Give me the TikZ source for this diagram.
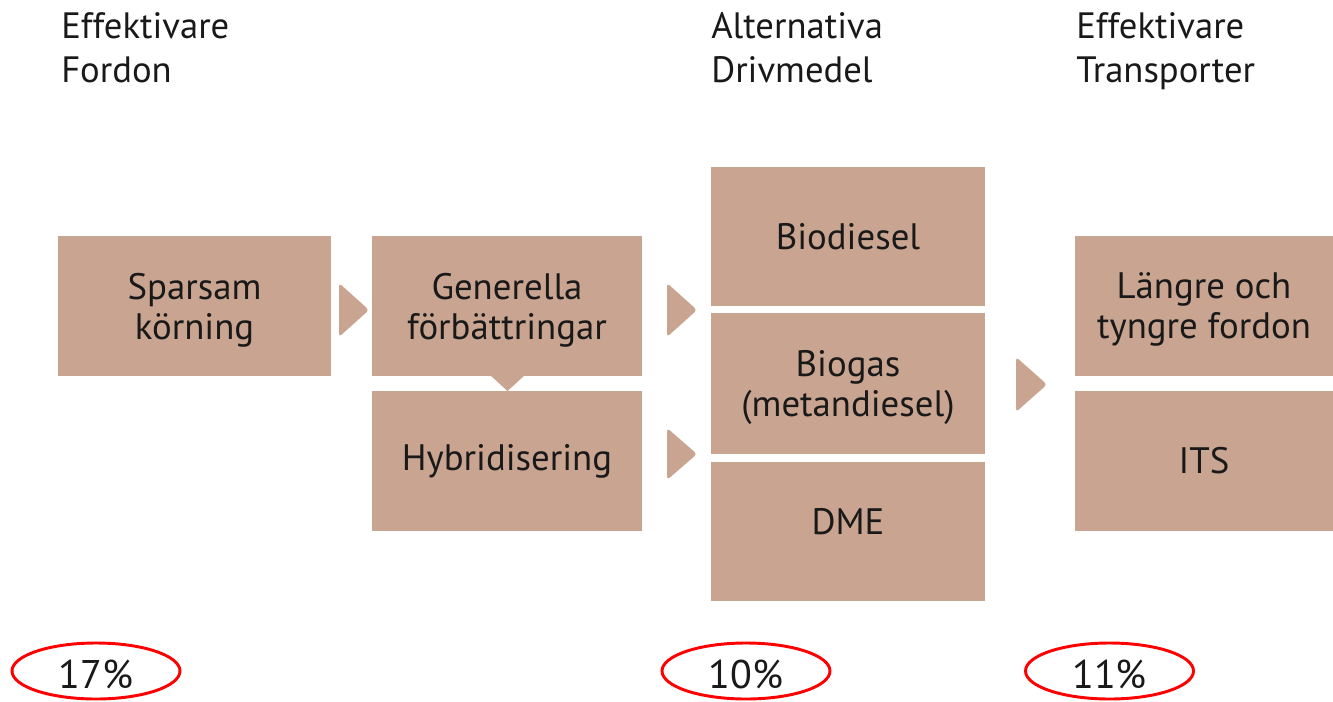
\documentclass[tikz,border=0pt]{standalone}
\usepackage{fontspec}
\setmainfont{PT Sans}
\usetikzlibrary{shapes.geometric}
\definecolor{boxc}{RGB}{201,164,145}
\definecolor{txt}{RGB}{25,25,25}
\begin{document}
\begin{tikzpicture}[x=0.75pt,y=-0.75pt,
  box/.style={fill=boxc, inner sep=0pt, align=center, text=txt, font=\fontsize{27.6}{30}\selectfont},
  twoline/.style={text depth=0pt},
  head/.style={anchor=north west, inner sep=0pt, align=left, text=txt, font=\fontsize{27.5}{33}\selectfont},
  pct/.style={ellipse, draw=red, line width=2.2pt, minimum width=126pt, minimum height=42pt, inner sep=0pt, text=txt, text height=27pt, font=\fontsize{30}{32}\selectfont},
  tri/.style={fill=boxc, rounded corners=2.5pt}]
\useasboundingbox (0,0) rectangle (1333,702);

% headers
\node[head] (h1) at (61,12) {Effektivare\\Fordon};
\node[head] (h2) at (711,12) {Alternativa\\Drivmedel};
\node[head] (h3) at (1076,12) {Effektivare\\Transporter};

% boxes
\node[box, twoline, minimum width=204.75pt, minimum height=105pt] (spar) at (194.5,306) {Sparsam\\körning};
\node[box, twoline, minimum width=202.5pt, minimum height=105pt] (gen) at (507,306) {Generella\\förbättringar};
\node[box, minimum width=202.5pt, minimum height=105pt] (hyb) at (507,461) {Hybridisering};
\node[box, minimum width=205.5pt, minimum height=104.25pt] (bio) at (848,236.5) {Biodiesel};
\node[box, twoline, minimum width=205.5pt, minimum height=105.75pt] (biog) at (848,383.5) {Biogas\\(metandiesel)};
\node[box, minimum width=205.5pt, minimum height=104.25pt, text depth=15pt] (dme) at (848,531.5) {DME};
\node[box, twoline, minimum width=193.5pt, minimum height=105pt] (lang) at (1204,306) {Längre och\\tyngre fordon};
\node[box, minimum width=193.5pt, minimum height=105pt] (its) at (1204,461) {ITS};

% arrow heads
\fill[tri] (339,283) -- (369,310) -- (339,337) -- cycle;
\fill[tri] (667,283) -- (697,310) -- (667,337) -- cycle;
\fill[tri] (667,428) -- (697,454) -- (667,480) -- cycle;
\fill[tri] (1016,357) -- (1047,384.5) -- (1016,412) -- cycle;
\fill[boxc] (490,375) -- (525,375) -- (507.5,391) -- cycle;

% percentages
\node[pct] (p1) at (96,671) {17\%};
\node[pct] (p2) at (746,671) {10\%};
\node[pct] (p3) at (1109.5,671) {11\%};
\end{tikzpicture}
\end{document}
